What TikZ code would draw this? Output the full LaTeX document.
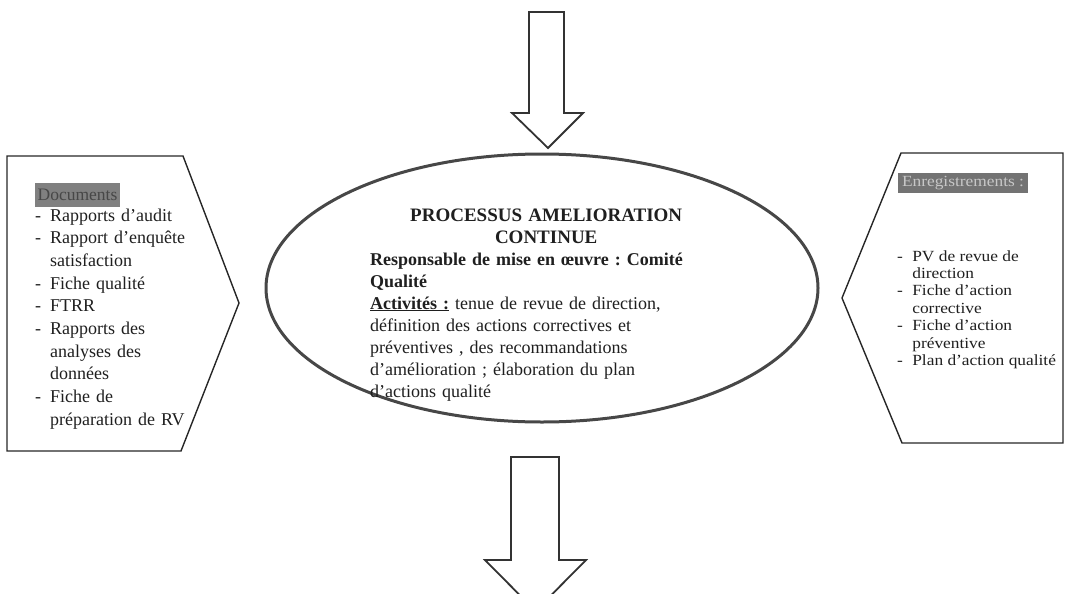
\documentclass[tikz,border=0pt]{standalone}
\usepackage{fontspec}
\setmainfont{Liberation Serif}
\usepackage{graphicx}
\usetikzlibrary{shapes.geometric}
\frenchspacing
% list helpers: dash with hanging indent, and indented continuation line
\newcommand{\dashitem}[1][15pt]{\makebox[#1][l]{-}}
\newcommand{\contline}[1][15pt]{\hspace*{#1}}

\begin{document}
\begin{tikzpicture}[x=1pt,y=-1pt,
  frame/.style={draw=black!85,line width=1.4pt,line join=miter},
  blockarrow/.style={draw=black!80,line width=1.8pt,line join=miter,fill=white},
  oval/.style={draw=black!72,line width=3pt,ellipse,inner sep=0pt,fill=white},
  listtext/.style={anchor=base west,inner sep=0pt,align=left,text=black!88},
  lefttag/.style={fill=black!50,text=black!72,inner sep=0pt,minimum width=85pt,minimum height=24pt,
    font=\fontsize{17.5}{20}\selectfont},
  righttag/.style={fill=black!55,text=black!22,inner sep=0pt,minimum width=130pt,minimum height=20pt}
]
\useasboundingbox (0,0) rectangle (1065,594);
\clip (0,0) rectangle (1065,594);

% incoming block arrow (top)
\draw[blockarrow] (529,12) -- (564,12) -- (564,113) -- (583,113) -- (548,148)
  -- (512,113) -- (529,113) -- cycle;

% outgoing block arrow (bottom)
\draw[blockarrow] (511,457) -- (559,457) -- (559,560) -- (586,560) -- (535.5,611)
  -- (485,560) -- (511,560) -- cycle;

% inputs: pentagon pointing right
\draw[frame] (7,156) -- (183,156) -- (239,303) -- (181,451) -- (7,451) -- cycle;

% outputs: pentagon pointing left
\draw[frame] (1063,153) -- (901,153) -- (842,298) -- (902,443) -- (1063,443) -- cycle;

% process ellipse
\node[oval,minimum width=552pt,minimum height=268pt] (proc) at (542,288) {};

% process title, centred
\node[listtext,text width=340pt,align=center,font=\bfseries\fontsize{19}{22}\selectfont]
  (proctitle) at (376,221) {PROCESSUS AMELIORATION\\ CONTINUE};

% process owner and activities
\node[listtext,text width=350pt,font=\fontsize{18}{22}\selectfont] (proctext) at (370,265)
{{\bfseries Responsable de mise en œuvre : Comité\\ Qualité}\\
\underline{\bfseries Activités :} tenue de revue de direction,\\
définition des actions correctives et\\
préventives , des recommandations\\
d’amélioration ; élaboration du plan\\
d’actions qualité};

% documents
\node[lefttag] (doctag) at (77.5,195) {Documents};
\node[listtext,text width=200pt,font=\fontsize{18}{22.7}\selectfont] (doclist) at (35,221)
{\dashitem Rapports d’audit\\
\dashitem Rapport d’enquête\\
\contline satisfaction\\
\dashitem Fiche qualité\\
\dashitem FTRR\\
\dashitem Rapports des\\
\contline analyses des\\
\contline données\\
\dashitem Fiche de\\
\contline préparation de RV};

% records
\node[righttag] (rectag) at (963,183)
  {\scalebox{1.12}[1]{\fontsize{15.5}{18}\selectfont Enregistrements :}};
\node[listtext] (reclist) at (897,261)
{\scalebox{1.12}[1]{\parbox[t]{150pt}{\raggedright\fontsize{15.5}{17.4}\selectfont
\dashitem[13.5pt]PV de revue de\\
\contline[13.5pt]direction\\
\dashitem[13.5pt]Fiche d’action\\
\contline[13.5pt]corrective\\
\dashitem[13.5pt]Fiche d’action\\
\contline[13.5pt]préventive\\
\dashitem[13.5pt]Plan d’action qualité}}};
\end{tikzpicture}
\end{document}
